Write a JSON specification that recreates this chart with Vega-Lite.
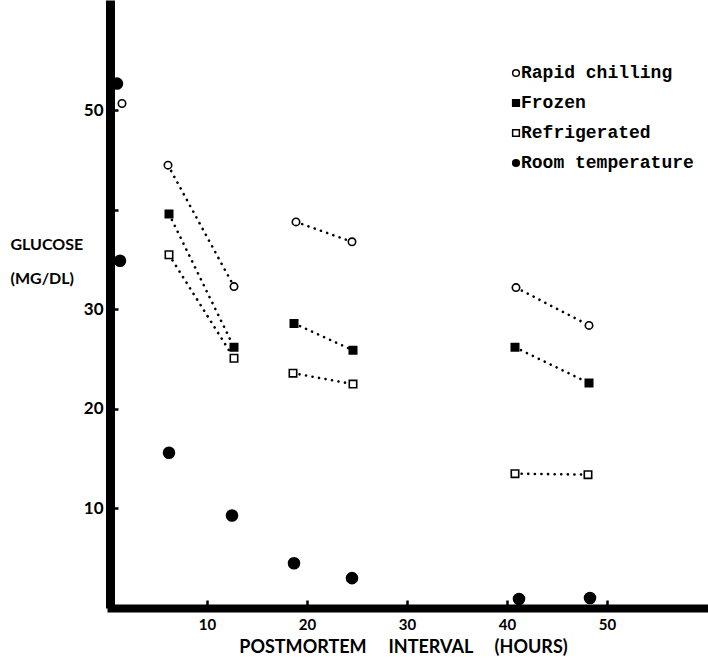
{
  "$schema": "https://vega.github.io/schema/vega-lite/v6.json",
  "width": 601,
  "height": 608,
  "autosize": {"type": "none"},
  "padding": {"left": 107, "top": 0, "right": 0, "bottom": 50},
  "background": "white",
  "config": {"view": {"stroke": null}},
  "data": {
    "values": [
      {"condition": "Rapid chilling", "hours": 1.5, "glucose": 50.7, "pair": null},
      {"condition": "Rapid chilling", "hours": 6.1, "glucose": 44.5, "pair": "R1"},
      {"condition": "Rapid chilling", "hours": 12.7, "glucose": 32.3, "pair": "R1"},
      {"condition": "Rapid chilling", "hours": 18.9, "glucose": 38.8, "pair": "R2"},
      {"condition": "Rapid chilling", "hours": 24.5, "glucose": 36.8, "pair": "R2"},
      {"condition": "Rapid chilling", "hours": 40.9, "glucose": 32.2, "pair": "R3"},
      {"condition": "Rapid chilling", "hours": 48.2, "glucose": 28.4, "pair": "R3"},
      {"condition": "Frozen", "hours": 6.2, "glucose": 39.6, "pair": "F1"},
      {"condition": "Frozen", "hours": 12.7, "glucose": 26.2, "pair": "F1"},
      {"condition": "Frozen", "hours": 18.7, "glucose": 28.6, "pair": "F2"},
      {"condition": "Frozen", "hours": 24.6, "glucose": 25.9, "pair": "F2"},
      {"condition": "Frozen", "hours": 40.8, "glucose": 26.2, "pair": "F3"},
      {"condition": "Frozen", "hours": 48.2, "glucose": 22.6, "pair": "F3"},
      {"condition": "Refrigerated", "hours": 6.2, "glucose": 35.5, "pair": "G1"},
      {"condition": "Refrigerated", "hours": 12.7, "glucose": 25.1, "pair": "G1"},
      {"condition": "Refrigerated", "hours": 18.6, "glucose": 23.6, "pair": "G2"},
      {"condition": "Refrigerated", "hours": 24.6, "glucose": 22.5, "pair": "G2"},
      {"condition": "Refrigerated", "hours": 40.8, "glucose": 13.5, "pair": "G3"},
      {"condition": "Refrigerated", "hours": 48.1, "glucose": 13.4, "pair": "G3"},
      {"condition": "Room temperature", "hours": 1.0, "glucose": 52.7, "pair": null},
      {"condition": "Room temperature", "hours": 1.3, "glucose": 34.9, "pair": null},
      {"condition": "Room temperature", "hours": 6.2, "glucose": 15.6, "pair": null},
      {"condition": "Room temperature", "hours": 12.5, "glucose": 9.3, "pair": null},
      {"condition": "Room temperature", "hours": 18.7, "glucose": 4.5, "pair": null},
      {"condition": "Room temperature", "hours": 24.5, "glucose": 3.0, "pair": null},
      {"condition": "Room temperature", "hours": 41.2, "glucose": 0.9, "pair": null},
      {"condition": "Room temperature", "hours": 48.3, "glucose": 1.0, "pair": null}
    ]
  },
  "encoding": {
    "x": {
      "field": "hours",
      "type": "quantitative",
      "scale": {"domain": [0, 60.1], "nice": false, "zero": false},
      "axis": {
        "values": [10, 20, 30, 40, 50],
        "grid": false,
        "domainColor": "black",
        "domainWidth": 8,
        "tickColor": "black",
        "tickWidth": 2.5,
        "tickSize": -8,
        "labelFont": "Lato",
        "labelFontWeight": "bold",
        "labelFontSize": 15,
        "labelColor": "black",
        "labelPadding": 17,
        "title": "POSTMORTEM\u00a0\u00a0\u00a0\u00a0\u00a0INTERVAL\u00a0\u00a0\u00a0\u00a0\u00a0(HOURS)",
        "titleFont": "Lato",
        "titleFontWeight": "bold",
        "titleFontSize": 18,
        "titleColor": "black",
        "titleBaseline": "middle",
        "titleX": 296,
        "titleY": 39
      }
    },
    "y": {
      "field": "glucose",
      "type": "quantitative",
      "scale": {"domain": [0, 61.1], "nice": false, "zero": false},
      "axis": {
        "values": [10, 20, 30, 40, 50],
        "labelExpr": "datum.value == 40 ? '' : datum.label",
        "offset": -3,
        "grid": false,
        "domainColor": "black",
        "domainWidth": 9,
        "tickColor": "black",
        "tickWidth": 2.5,
        "tickSize": -8,
        "labelFont": "Lato",
        "labelFontWeight": "bold",
        "labelFontSize": 17,
        "labelColor": "black",
        "labelPadding": 15,
        "title": ["GLUCOSE", "(MG/DL)"],
        "titleAngle": 0,
        "titleAlign": "left",
        "titleBaseline": "middle",
        "titleX": -100,
        "titleY": 244,
        "titleLineHeight": 34,
        "titleFont": "Lato",
        "titleFontWeight": "bold",
        "titleFontSize": 16,
        "titleColor": "black"
      }
    },
    "shape": {
      "field": "condition",
      "type": "nominal",
      "scale": {"domain": ["Rapid chilling", "Frozen", "Refrigerated", "Room temperature"], "range": ["circle", "square", "square", "circle"]},
      "legend": {"title": null, "orient": "none", "legendX": 400, "legendY": 64, "padding": 0, "labelFont": "Liberation Mono", "labelFontWeight": "bold", "labelFontSize": 18, "labelColor": "black", "labelOffset": -4, "labelLimit": 400, "rowPadding": 12, "symbolSize": 45, "symbolStrokeWidth": 1.5}
    },
    "fill": {
      "field": "condition",
      "type": "nominal",
      "scale": {"domain": ["Rapid chilling", "Frozen", "Refrigerated", "Room temperature"], "range": ["white", "black", "white", "black"]},
      "legend": {"title": null, "orient": "none", "legendX": 400, "legendY": 64, "padding": 0, "labelFont": "Liberation Mono", "labelFontWeight": "bold", "labelFontSize": 18, "labelColor": "black", "labelOffset": -4, "labelLimit": 400, "rowPadding": 12, "symbolSize": 45, "symbolStrokeWidth": 1.5}
    },
    "stroke": {
      "field": "condition",
      "type": "nominal",
      "scale": {"domain": ["Rapid chilling", "Frozen", "Refrigerated", "Room temperature"], "range": ["black", "black", "black", "black"]},
      "legend": {"title": null, "orient": "none", "legendX": 400, "legendY": 64, "padding": 0, "labelFont": "Liberation Mono", "labelFontWeight": "bold", "labelFontSize": 18, "labelColor": "black", "labelOffset": -4, "labelLimit": 400, "rowPadding": 12, "symbolSize": 45, "symbolStrokeWidth": 1.5}
    }
  },
  "layer": [
    {
      "transform": [{"filter": "datum.pair != null"}],
      "mark": {"type": "line", "color": "black", "strokeWidth": 2.6, "strokeCap": "round", "strokeDash": [0.1, 6.5]},
      "encoding": {"detail": {"field": "pair"}, "shape": null, "fill": null, "stroke": null}
    },
    {
      "transform": [{"filter": "datum.condition != 'Room temperature'"}],
      "mark": {"type": "point", "strokeWidth": 1.6, "opacity": 1, "size": 55}
    },
    {
      "transform": [{"filter": "datum.condition == 'Room temperature'"}],
      "mark": {"type": "point", "strokeWidth": 1.6, "opacity": 1, "size": 120}
    }
  ]
}
